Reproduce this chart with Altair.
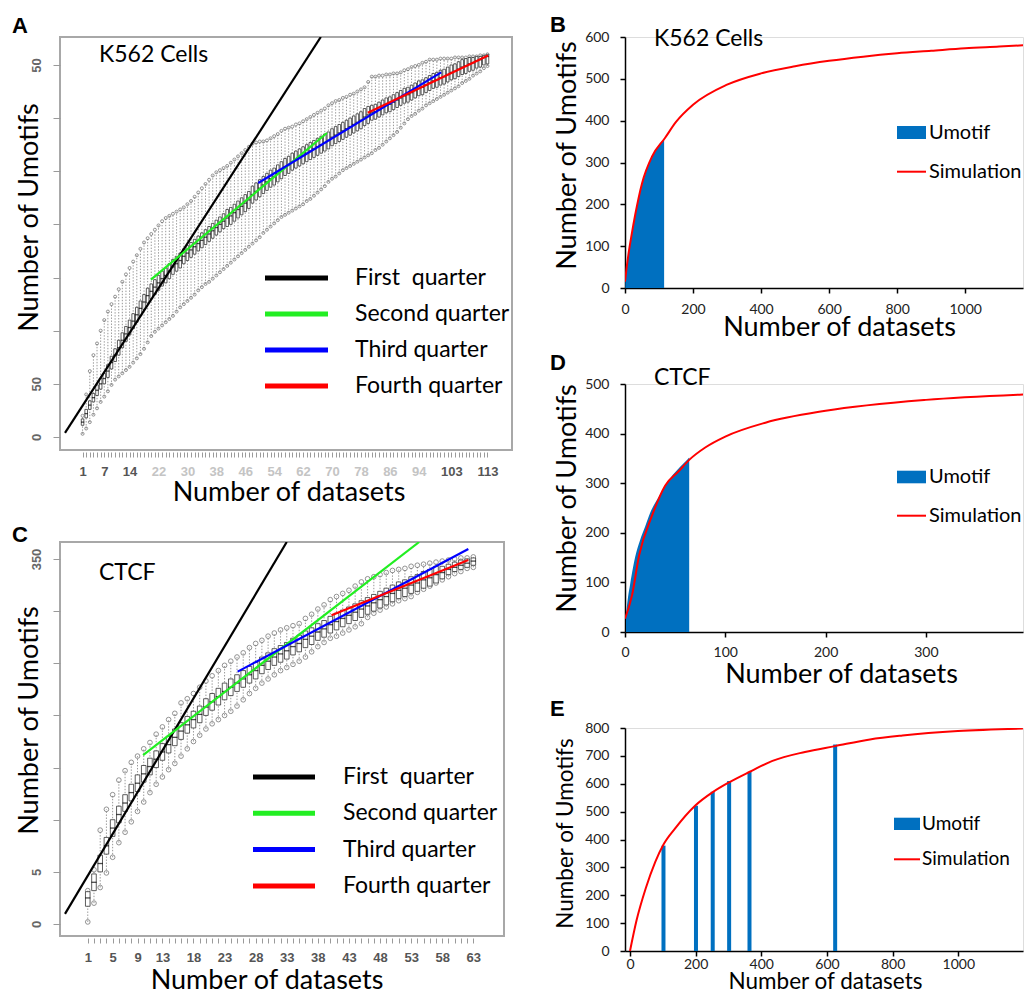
import altair as alt
import pandas as pd

# ---------------- data: panel A (K562 boxplots) ----------------
A_IDX = list(range(1, 114))
A_LOW = [3,8,14,21,27,33,38,43,49,54, 57,60,63,66,70,74,78,83,89,95,
         99,102,105,108,111,114,118,122,125,128, 131,134,138,141,144,146,149,152,155,158,
         161,164,167,170,173,176,179,182,185,188, 192,195,198,201,204,207,209,211,213,215,
         217,219,222,224,227,230,233,236,240,243, 245,248,251,253,255,257,259,261,263,265,
         267,270,272,275,278,281,284,287,291,295, 299,302,304,307,309,312,314,316,318,320,
         322,324,326,328,330,333,335,337,340,342, 344,347,349]
A_Q1 = [11,18,26,33,39,45,50,56,64,71, 77,84,90,96,102,108,114,120,126,130,
        134,138,142,145,149,153,156,159,163,166, 169,172,175,178,181,184,187,190,193,196,
        198,200,203,206,209,212,215,220,223,226, 229,232,235,237,240,243,246,248,251,253,
        255,257,259,261,263,265,267,269,271,274, 276,278,280,282,284,286,288,290,293,295,
        298,299,301,303,305,306,308,310,312,314, 315,317,319,321,322,324,326,328,329,331,
        332,334,336,337,339,341,342,344,345,347, 348,350,351]
A_MED = [14,22,30,37,44,50,55,62,70,77, 84,91,97,103,109,115,121,127,133,137,
         141,145,149,152,156,160,163,166,170,173, 176,179,182,185,188,191,194,197,200,203,
         206,208,211,214,217,220,223,228,231,234, 237,240,243,245,248,251,254,256,259,261,
         263,265,267,269,271,273,275,277,279,282, 284,286,288,290,292,294,296,298,301,303,
         305,306,308,310,312,313,315,317,319,321, 322,324,326,328,329,331,333,335,336,338,
         339,341,343,344,346,348,349,351,352,354, 355,357,358]
A_Q3 = [17,26,34,41,49,55,60,68,76,83, 91,98,104,110,116,122,128,134,140,144,
        148,152,156,159,163,167,170,173,177,180, 183,186,189,192,195,198,201,204,207,210,
        214,216,219,222,225,228,231,236,239,242, 245,248,251,253,256,259,262,264,267,269,
        271,273,275,277,279,281,283,285,287,290, 292,294,296,298,300,302,304,306,309,311,
        312,313,315,317,319,320,322,324,326,328, 329,331,333,335,336,338,340,342,343,345,
        346,348,350,351,353,355,356,357,357,358, 358,359,360]
A_HIGH = [20,40,62,77,88,100,110,118,125,132, 139,146,153,159,165,171,177,183,187,191,
          195,199,203,206,208,210,212,214,216,219, 222,226,230,234,238,242,246,249,251,253,
          255,258,261,264,267,270,273,276,277,278, 278,279,281,283,285,288,290,291,292,294,
          295,297,299,301,303,305,307,309,312,314, 316,317,319,320,322,323,325,327,329,334,
          339,339,340,340,341,341,342,342,343,345, 346,348,349,350,352,353,355,355,355,356,
          356,356,356,357,357,357,357,358,358,358, 359,359,360]
A_XLAB_MAIN = [1, 7, 14, 103, 113]
A_XLAB_FAINT = [22, 30, 38, 46, 54, 62, 70, 78, 86, 94]
A_YLAB_VAL = [0, 50, 350]
A_YLAB_TXT = ["0", "50", "50"]
A_FIT_X = [[-3.86, 66.9], [19.9, 68.6], [49.6, 100.2], [79.9, 113.2]]
A_FIT_Y = [[3.8, 376.3], [148, 286], [239, 343], [305, 359]]

# ---------------- data: panel C (CTCF boxplots) ----------------
C_IDX = list(range(1, 64))
C_LOW = [2,20,35,49,64,78,88,98,108,117, 126,134,141,148,154,161,168,175,181,187,
         192,196,200,204,209,215,221,226,231,235, 239,243,246,249,252,256,261,266,270,274,
         276,279,282,285,288,294,298,301,304,307, 310,312,314,318,321,324,327,330,333,336,
         338,341,342]
C_Q1 = [17,32,50,67,84,97,108,118,127,136, 143,150,157,164,171,177,183,188,193,200,
        205,210,215,219,223,227,231,235,240,244, 248,251,254,258,261,265,268,272,275,279,
        282,285,288,291,294,297,300,303,306,309, 312,314,317,319,322,324,327,331,335,338,
        340,342,344]
C_MED = [25,40,58,75,92,105,116,126,135,144, 151,158,165,172,179,185,191,196,201,208,
         213,218,223,227,231,235,239,243,248,252, 256,259,262,266,269,273,276,280,283,287,
         290,293,296,299,302,305,308,311,314,317, 320,322,325,327,330,332,335,337,340,342,
         344,346,348]
C_Q3 = [31,48,66,83,100,113,124,134,143,152, 159,166,173,180,187,193,199,204,209,216,
        221,226,231,235,239,243,247,251,256,260, 264,267,270,274,277,281,284,288,291,295,
        298,301,304,307,310,313,316,319,322,325, 328,330,333,335,338,340,343,343,345,347,
        349,350,351]
C_HIGH = [32,52,90,110,124,138,147,155,161,168, 174,182,189,196,202,212,216,221,227,233,
          238,243,248,252,256,260,265,269,272,276, 279,282,284,286,288,293,297,302,306,311,
          314,317,320,324,328,331,333,335,337,339, 340,341,343,344,345,346,347,348,349,350,
          351,351,352]
C_XLAB_MAIN = [1, 5, 9, 13, 18, 23, 28, 33, 38, 43, 48, 53, 58, 63]
C_XLAB_FAINT = []
C_YLAB_VAL = [0, 50, 350]
C_YLAB_TXT = ["0", "5", "350"]
C_FIT_X = [[-2.66, 33.0], [9.9, 54.3], [25.1, 62.2], [40.2, 62.2]]
C_FIT_Y = [[9.7, 366.3], [162, 366.3], [242, 359.5], [296, 349]]

QUARTERS = ["First\u00a0 quarter", "Second quarter", "Third quarter", "Fourth quarter"]
QCOLORS = ["#000000", "#22ee22", "#0000ff", "#ff0000"]

# ---------------- data: panels B, D, E ----------------
SERIES = ["Umotif", "Simulation"]
B_SIM_X = [0, 5, 10, 20, 30, 50, 80, 117, 150, 200, 300, 400, 500, 600, 700, 800, 900, 1000, 1100, 1190]
B_SIM_Y = [15, 50, 80, 130, 175, 250, 315, 358, 397, 438, 486, 513, 530, 543, 553, 561, 567, 573, 577, 581]
B_OBS_X = [1, 5, 10, 20, 30, 40, 50, 60, 70, 80, 90, 100, 110, 115]
B_OBS_Y = [20, 52, 82, 132, 176, 213, 247, 274, 297, 315, 330, 342, 352, 357]

D_SIM_X = [0, 7, 14, 27, 40, 54, 64, 80, 100, 140, 200, 300, 399]
D_SIM_Y = [27, 74, 154, 235, 295, 325, 347, 372, 394, 422, 446, 468, 479]
D_OBS_X = [1, 3, 5, 8, 10, 15, 20, 25, 30, 35, 40, 45, 50, 55, 60, 64]
D_OBS_Y = [35, 70, 95, 130, 150, 185, 212, 240, 260, 277, 295, 310, 322, 333, 343, 352]

E_SIM_X = [0, 20, 48, 77, 102, 137, 199, 251, 302, 365, 434, 533, 625, 731, 830, 999, 1197]
E_SIM_Y = [0, 110, 225, 320, 382, 439, 522, 569, 605, 643, 682, 714, 735, 759, 773, 789, 798]
E_BAR_X = [102, 201, 252, 302, 364, 625]
E_BAR_Y = [378, 521, 571, 610, 642, 741]

TXT = "Lato"
RF = "Liberation Sans"
BLUE = "#0070c0"
RED = "#ff0000"


def txt_layer(text, x, y, size, font=TXT, weight="normal", align="left", baseline="alphabetic"):
    return alt.Chart(pd.DataFrame({"t": [text]})).mark_text(
        align=align, baseline=baseline, font=font, fontSize=size, fontWeight=weight, color="black"
    ).encode(x=alt.value(x), y=alt.value(y), text="t:N")


def r_panel(letter, name, idx, low, q1, med, q3, high, fit_x, fit_y,
            xlab_main, xlab_faint, ylab_val, ylab_txt, *, xdom, ydom, w, h,
            box_w, circ, leg, ann, ytitle, xtitle):
    df = pd.DataFrame({"i": idx, "low": low, "q1": q1, "med": med, "q3": q3, "high": high})
    shown = sorted(xlab_main + xlab_faint)
    xaxis = alt.Axis(
        values=idx,
        labelExpr=f"indexof({shown}, datum.value) >= 0 ? datum.label : ''",
        labelColor={"condition": {"test": f"indexof({xlab_main}, datum.value) >= 0", "value": "#555555"},
                    "value": "#c4c4c4"},
        labelFont=RF, labelFontSize=13, labelFontWeight="bold", labelPadding=8,
        labelOverlap=False, labelFlush=False,
        tickColor="#9a9a9a", tickSize=5, tickWidth=1, domain=False, grid=False, offset=2,
        title="Number of datasets", titleFont=TXT, titleFontSize=27, titleFontWeight="normal",
        titleColor="black", titleX=xtitle[0], titleY=xtitle[1], titleAlign="center",
        titleBaseline="alphabetic")
    yexpr = "''"
    for v, t in reversed(list(zip(ylab_val, ylab_txt))):
        yexpr = f"datum.value == {v} ? '{t}' : ({yexpr})"
    yaxis = alt.Axis(
        values=list(range(0, 351, 50)), labelExpr=yexpr, labelAngle=270, labelAlign="center",
        labelBaseline="bottom", labelColor="#666666", labelFont=RF, labelFontSize=13,
        labelFontWeight="bold", labelPadding=10, tickSize=7, tickColor="#9a9a9a", domain=False,
        grid=False, title="Number of Umotifs", titleFont=TXT, titleFontSize=27,
        titleFontWeight="normal", titleColor="black", titleAngle=270, titleX=ytitle[0],
        titleY=ytitle[1], titleAlign="center", titleBaseline="alphabetic")
    X = alt.X("i:Q", scale=alt.Scale(domain=xdom, nice=False, zero=False), axis=xaxis)

    def Y(f):
        return alt.Y(f"{f}:Q", scale=alt.Scale(domain=ydom, nice=False, zero=False), axis=yaxis)

    base = alt.Chart(df)
    whisk = base.mark_rule(color="#8c8c8c", strokeWidth=0.9, strokeDash=[1.4, 1.6]).encode(
        x=X, y=Y("low"), y2="high")
    c_lo = base.mark_point(shape="circle", filled=False, size=circ, color="#555555",
                           strokeWidth=0.9).encode(x=X, y=Y("low"))
    c_hi = base.mark_point(shape="circle", filled=False, size=circ, color="#555555",
                           strokeWidth=0.9).encode(x=X, y=Y("high"))
    box = base.mark_bar(size=box_w, fill="white", stroke="#2a2a2a", strokeWidth=0.75).encode(
        x=X, y=Y("q1"), y2="q3")
    medt = base.mark_tick(orient="horizontal", size=box_w + 0.6, thickness=1.3, color="black").encode(
        x=X, y=Y("med"))
    rows = []
    for k, (xs, ys) in enumerate(zip(fit_x, fit_y)):
        for xv, yv in zip(xs, ys):
            rows.append({"i": xv, "v": yv, "g": k, "c": QCOLORS[k]})
    fits = alt.Chart(pd.DataFrame(rows)).mark_line(strokeWidth=2.2, clip=True).encode(
        x=X, y=Y("v"), detail="g:N", color=alt.Color("c:N", scale=None))
    ldf = pd.DataFrame({"label": QUARTERS, "c": QCOLORS, "row": [0, 1, 2, 3]})
    legend_layers = []
    for k in range(len(QUARTERS)):
        yk = leg["y0"] + k * leg["dy"]
        lb = alt.Chart(ldf).transform_filter(f"datum.row == {k}")
        legend_layers.append(lb.mark_rule(strokeWidth=5).encode(
            x=alt.value(leg["x0"]), x2=alt.value(leg["x1"]), y=alt.value(yk),
            color=alt.Color("c:N", scale=None)))
        legend_layers.append(lb.mark_text(align="left", baseline="middle", font=TXT,
                                          fontSize=leg["fs"], color="black").encode(
            x=alt.value(leg["tx"]), y=alt.value(yk + leg["tdy"]), text="label:N"))
    return alt.layer(
        whisk, c_lo, c_hi, box, medt, fits, *legend_layers,
        txt_layer(name, ann[0], ann[1], 23),
        txt_layer(letter, -48, ann[2], 22, font=RF, weight="bold"),
    ).properties(width=w, height=h, view=alt.ViewBackground(stroke="#a8a8a8", strokeWidth=2))


def excel_panel(letter, name, sim_x, sim_y, obs_x, obs_y, *, bars, xdom, xticks, ydom, yticks,
                w, h, leg, ann, ytitle, xtitle, title_fs, letter_y, xpad):
    common = dict(domainColor="black", domainWidth=1.5, tickColor="black", tickWidth=1.5, tickSize=5,
                  labelFont=TXT, labelFontSize=14, labelColor="#222222", grid=False, format="d",
                  titleFont=TXT, titleFontSize=title_fs, titleFontWeight="normal", titleColor="black",
                  titleAlign="center", titleBaseline="alphabetic", labelFlush=False)
    xaxis = alt.Axis(values=xticks, labelPadding=xpad, title="Number of datasets",
                     titleX=xtitle[0], titleY=xtitle[1], **common)
    yaxis = alt.Axis(values=yticks, labelPadding=11, title="Number of Umotifs", titleAngle=270,
                     titleX=ytitle[0], titleY=ytitle[1], **common)
    X = alt.X("x:Q", scale=alt.Scale(domain=xdom, nice=False, zero=False), axis=xaxis)
    Y = alt.Y("y:Q", scale=alt.Scale(domain=ydom, nice=False, zero=False), axis=yaxis)
    odf = pd.DataFrame({"x": obs_x, "y": obs_y})
    sdf = pd.DataFrame({"x": sim_x, "y": sim_y})
    if bars:
        obs = alt.Chart(odf).mark_bar(size=4, color=BLUE, clip=True).encode(x=X, y=Y)
    else:
        obs = alt.Chart(odf).mark_area(color=BLUE, interpolate="monotone", clip=True).encode(x=X, y=Y)
    sim = alt.Chart(sdf).mark_line(color=RED, strokeWidth=2, interpolate="monotone", clip=True).encode(
        x=X, y=Y)
    sdf_leg = pd.DataFrame({"s": SERIES, "row": [0, 1]})
    sw = alt.Chart(sdf_leg).transform_filter("datum.row == 0").mark_rect(color=BLUE).encode(
        x=alt.value(leg["x0"]), x2=alt.value(leg["x1"]),
        y=alt.value(leg["ry0"]), y2=alt.value(leg["ry1"]))
    ln = alt.Chart(sdf_leg).transform_filter("datum.row == 1").mark_rule(color=RED, strokeWidth=2).encode(
        x=alt.value(leg["x0"]), x2=alt.value(leg["x1"]), y=alt.value(leg["ly"]))
    t0 = alt.Chart(sdf_leg).transform_filter("datum.row == 0").mark_text(
        align="left", baseline="middle", font=TXT, fontSize=leg["fs"], color="black").encode(
        x=alt.value(leg["tx"]), y=alt.value((leg["ry0"] + leg["ry1"]) / 2 + leg["tdy"]), text="s:N")
    t1 = alt.Chart(sdf_leg).transform_filter("datum.row == 1").mark_text(
        align="left", baseline="middle", font=TXT, fontSize=leg["fs"], color="black").encode(
        x=alt.value(leg["tx"]), y=alt.value(leg["ly"] + leg["tdy"]), text="s:N")
    layers = [obs, sim, sw, ln, t0, t1]
    if name:
        layers.append(txt_layer(name, ann[0], ann[1], 23))
    layers.append(txt_layer(letter, -75, letter_y, 22, font=RF, weight="bold"))
    return alt.layer(*layers).properties(width=w, height=h)


A = r_panel("A", "K562 Cells", A_IDX, A_LOW, A_Q1, A_MED, A_Q3, A_HIGH, A_FIT_X, A_FIT_Y,
            A_XLAB_MAIN, A_XLAB_FAINT, A_YLAB_VAL, A_YLAB_TXT,
            xdom=[-3.86, 118.4], ydom=[-12.23, 376.3], w=452, h=413, box_w=2.6, circ=9,
            leg=dict(x0=205, x1=268, tx=295, y0=241, dy=36, fs=23, tdy=0),
            ann=(39, 25, -4), ytitle=(-23, 180), xtitle=(228.5, 48))
C = r_panel("C", "CTCF", C_IDX, C_LOW, C_Q1, C_MED, C_Q3, C_HIGH, C_FIT_X, C_FIT_Y,
            C_XLAB_MAIN, C_XLAB_FAINT, C_YLAB_VAL, C_YLAB_TXT,
            xdom=[-2.66, 67.13], ydom=[-11.5, 366.3], w=444, h=394, box_w=4.6, circ=22,
            leg=dict(x0=193, x1=255, tx=283, y0=235, dy=36.3, fs=23, tdy=0),
            ann=(39, 38, 0), ytitle=(-23, 178), xtitle=(206.5, 50))
B = excel_panel("B", "K562 Cells", B_SIM_X, B_SIM_Y, B_OBS_X, B_OBS_Y, bars=False,
                xdom=[0, 1170], xticks=[0, 200, 400, 600, 800, 1000], ydom=[0, 600],
                yticks=[0, 100, 200, 300, 400, 500, 600], w=398, h=251,
                leg=dict(x0=272, x1=301, ry0=89, ry1=102, ly=134.7, tx=304, fs=20, tdy=0),
                ann=(29, 9), ytitle=(-50, 118), xtitle=(214, 47), title_fs=27, letter_y=-5, xpad=9)
D = excel_panel("D", "CTCF", D_SIM_X, D_SIM_Y, D_OBS_X, D_OBS_Y, bars=False,
                xdom=[0, 396.8], xticks=[0, 100, 200, 300], ydom=[0, 500],
                yticks=[0, 100, 200, 300, 400, 500], w=398, h=248,
                leg=dict(x0=272, x1=301, ry0=86.7, ry1=99.3, ly=131.7, tx=304, fs=20, tdy=0),
                ann=(29, 1), ytitle=(-50, 114), xtitle=(216, 50), title_fs=27, letter_y=-14, xpad=8)
E = excel_panel("E", None, E_SIM_X, E_SIM_Y, E_BAR_X, E_BAR_Y, bars=True,
                xdom=[0, 1182], xticks=[0, 200, 400, 600, 800, 1000], ydom=[0, 800],
                yticks=[0, 100, 200, 300, 400, 500, 600, 700, 800], w=398, h=223,
                leg=dict(x0=269, x1=295, ry0=89.7, ry1=102, ly=131.3, tx=297, fs=19, tdy=0),
                ann=(0, 0), ytitle=(-53, 105), xtitle=(200, 37), title_fs=22.5, letter_y=-12, xpad=1)

left = alt.vconcat(A, C, spacing=92, bounds="flush")
right = alt.vconcat(B, D, E, spacing=96, bounds="flush")
chart = alt.hconcat(left, right, spacing=36).properties(
    padding={"left": 3, "top": 5, "right": 0, "bottom": 0}
).configure_view(stroke="transparent").configure(font=TXT, background="white")

chart.save("out.html", embed_options={"renderer": "svg", "actions": False})
